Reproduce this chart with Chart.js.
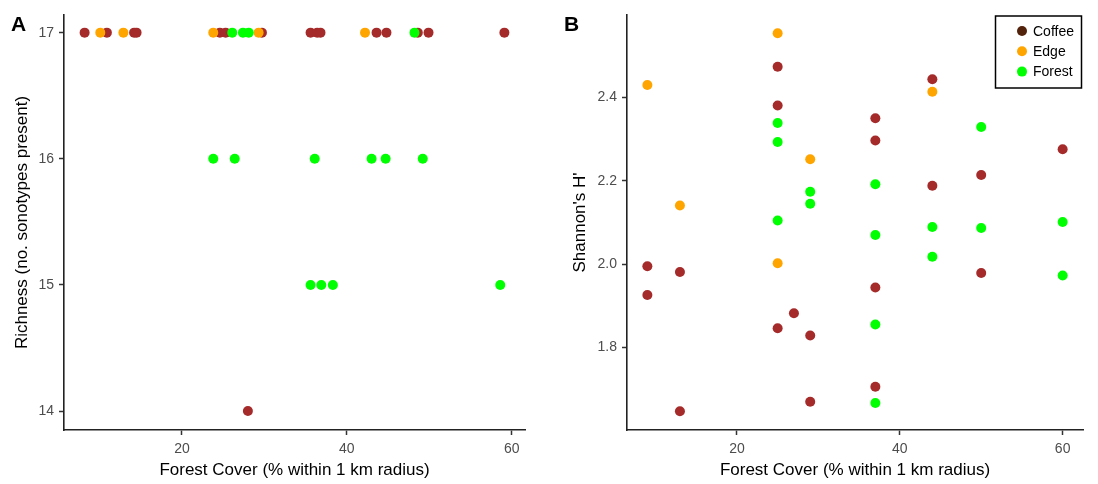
<!DOCTYPE html>
<html>
<head>
<meta charset="utf-8">
<script src="https://cdn.jsdelivr.net/npm/chart.js@4.4.1/dist/chart.umd.min.js"></script>
<style>
  body { margin: 0; background: #fff; }
  #wrap { position: relative; width: 1098px; height: 484px; }
  canvas { position: absolute; top: 0; }
  #panelA { left: 0; }
  #panelB { left: 549px; }
</style>
</head>
<body>
<div id="wrap">
  <canvas id="panelA" width="549" height="484"></canvas>
  <canvas id="panelB" width="549" height="484"></canvas>
</div>
<script>
// habitat groups and their colours
const groups = ['Coffee', 'Edge', 'Forest'];
const pointColors = ['#a52a2a', '#ffa500', '#00ff00'];
const keyColors = ['#52220a', '#ffa500', '#00ff00'];

// Panel A - richness (x slightly jittered)
const coffeeAx = [8.2, 10.9, 14.2, 14.5, 24.6, 25.3, 29.7, 35.6, 36.4, 36.8, 43.6, 44.8, 48.6, 49.9, 59.1, 28.0];
const coffeeAy = [17, 17, 17, 17, 17, 17, 17, 17, 17, 17, 17, 17, 17, 17, 17, 14];
const edgeAx = [10.1, 12.9, 23.8, 29.3, 42.2];
const edgeAy = [17, 17, 17, 17, 17];
const forestAx = [26.1, 27.4, 28.1, 48.2, 23.8, 26.4, 36.1, 43.0, 44.7, 49.2, 35.6, 36.9, 38.3, 58.6];
const forestAy = [17, 17, 17, 17, 16, 16, 16, 16, 16, 16, 15, 15, 15, 15];

// Panel B - Shannon diversity
const coffeeBx = [25, 25, 25, 44, 44, 37, 37, 37, 37, 60, 50, 50, 9, 9, 13, 13, 27, 29, 29];
const coffeeBy = [2.474, 2.381, 1.846, 2.444, 2.188, 2.350, 2.297, 1.944, 1.706, 2.276, 2.214, 1.979, 1.995, 1.926, 1.981, 1.647, 1.882, 1.829, 1.670];
const edgeBx = [25, 9, 29, 13, 44, 25];
const edgeBy = [2.554, 2.430, 2.252, 2.141, 2.414, 2.002];
const forestBx = [25, 25, 25, 29, 29, 50, 50, 37, 37, 37, 37, 60, 60, 44, 44];
const forestBy = [2.339, 2.293, 2.105, 2.174, 2.145, 2.329, 2.087, 2.192, 2.070, 1.855, 1.667, 2.101, 1.973, 2.089, 2.018];

const xTicks = [20, 40, 60];
const yTicksA = [14, 15, 16, 17];
const yTicksB = [1.8, 2.0, 2.2, 2.4];

const xTitle = 'Forest Cover (% within 1 km radius)';
const yTitleA = 'Richness (no. sonotypes present)';
const yTitleB = "Shannon's H'";

Chart.defaults.font.family = "'Liberation Sans', Arial, sans-serif";
Chart.defaults.animation = false;

const toPoints = (xs, ys) => xs.map((x, i) => ({ x: x, y: ys[i] }));

function makeDatasets(series) {
  return series.map((s, i) => ({
    label: groups[i],
    data: toPoints(s[0], s[1]),
    backgroundColor: pointColors[i],
    borderWidth: 0,
    pointRadius: 5,
    pointHoverRadius: 5,
    order: 3 - i
  }));
}

function axis(ticks, min, max, title, titlePad, opts) {
  return Object.assign({
    type: 'linear',
    min: min,
    max: max,
    afterBuildTicks: s => { s.ticks = ticks.map(v => ({ value: v })); },
    border: { display: true, color: '#222', width: 1.6 },
    grid: { drawOnChartArea: false, drawTicks: true, tickLength: 5, tickColor: '#333', tickWidth: 1.5 },
    ticks: { color: '#4d4d4d', font: { size: 14 }, padding: 6 },
    title: { display: true, text: title, color: '#000', font: { size: 17 }, padding: titlePad }
  }, opts);
}

// panel letter (A / B)
const letterPlugin = {
  id: 'panelLetter',
  afterDraw(chart, args, o) {
    const ctx = chart.ctx;
    ctx.save();
    ctx.font = "bold 21px 'Liberation Sans', Arial, sans-serif";
    ctx.fillStyle = '#000';
    ctx.textBaseline = 'alphabetic';
    ctx.fillText(o.text, o.x, o.y);
    ctx.restore();
  }
};

// boxed key drawn inside the plot area of panel B
const keyPlugin = {
  id: 'boxKey',
  afterDraw(chart, args, o) {
    if (!o.show) return;
    const ctx = chart.ctx;
    ctx.save();
    ctx.fillStyle = '#fff';
    ctx.fillRect(o.x, o.y, o.w, o.h);
    ctx.strokeStyle = '#000';
    ctx.lineWidth = 1.5;
    ctx.strokeRect(o.x, o.y, o.w, o.h);
    ctx.font = "14px 'Liberation Sans', Arial, sans-serif";
    ctx.textBaseline = 'middle';
    chart.data.datasets.forEach((ds, i) => {
      const cy = o.y + 15 + i * 20.3;
      ctx.beginPath();
      ctx.arc(o.x + 26.5, cy, 5, 0, Math.PI * 2);
      ctx.fillStyle = keyColors[i];
      ctx.fill();
      ctx.fillStyle = '#000';
      ctx.fillText(ds.label, o.x + 37.5, cy + 1);
    });
    ctx.restore();
  }
};

function makeChart(id, series, xr, yr, yTicks, yTitle, yWidth, yTitlePad, rightPad, letter, key, yFmt) {
  return new Chart(document.getElementById(id), {
    type: 'scatter',
    data: { datasets: makeDatasets(series) },
    options: {
      responsive: false,
      devicePixelRatio: 1,
      layout: { padding: { left: 0, right: rightPad, top: 15, bottom: 0 } },
      scales: {
        x: axis(xTicks, xr[0], xr[1], xTitle, { top: 0, bottom: 3 }, {
          afterFit: s => { s.height = 54; }
        }),
        y: axis(yTicks, yr[0], yr[1], yTitle, { top: yTitlePad, bottom: 0 }, {
          afterFit: s => { s.width = yWidth; },
          ticks: { color: '#4d4d4d', font: { size: 14 }, padding: 5, callback: yFmt }
        })
      },
      plugins: {
        legend: { display: false },
        tooltip: { enabled: false },
        panelLetter: letter,
        boxKey: key
      }
    },
    plugins: [letterPlugin, keyPlugin]
  });
}

makeChart('panelA',
  [[coffeeAx, coffeeAy], [edgeAx, edgeAy], [forestAx, forestAy]],
  [5.7, 61.6], [13.85, 17.14], yTicksA, yTitleA, 64, 12, 24,
  { text: 'A', x: 11, y: 31 }, { show: false },
  v => String(v));

makeChart('panelB',
  [[coffeeBx, coffeeBy], [edgeBx, edgeBy], [forestBx, forestBy]],
  [6.5, 62.5], [1.602, 2.598], yTicksB, yTitleB, 78, 21, 15,
  { text: 'B', x: 15, y: 31 }, { show: true, x: 446.5, y: 16, w: 86, h: 72 },
  v => v.toFixed(1));
</script>
</body>
</html>
